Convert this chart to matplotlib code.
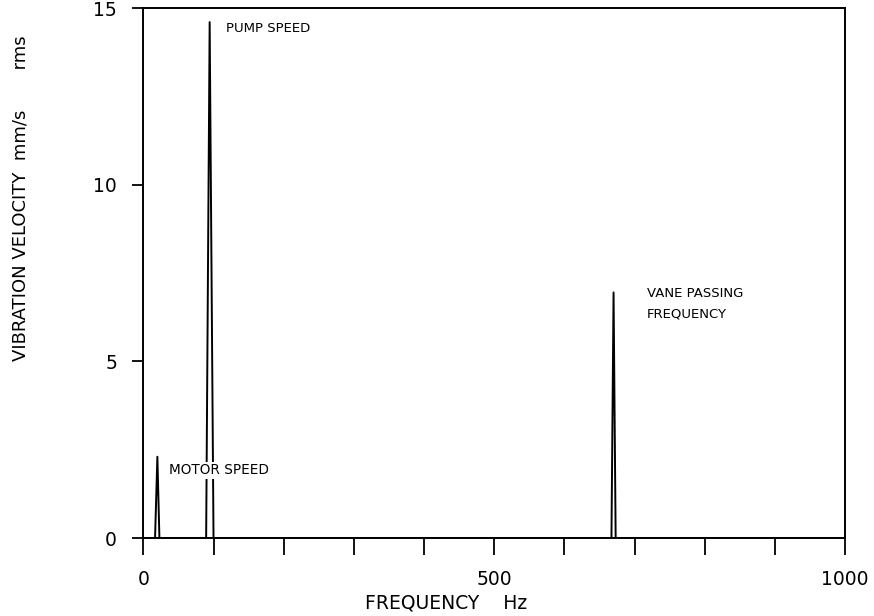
import numpy as np
import matplotlib.pyplot as plt

# spectrum (Hz, mm/s rms)
freq = [0, 15, 16.7, 20, 22.9, 89.5, 94.5, 100, 667, 670, 673, 1000]
amp = [0, 0, 0, 2.3, 0, 0, 14.6, 0, 0, 6.95, 0, 0]

xticks = [0, 100, 200, 300, 400, 500, 600, 700, 800, 900, 1000]
xticklabels = ['0', '', '', '', '', '500', '', '', '', '', '1000']
yticks = [0, 5, 10, 15]

# peak labels: text, x, y
labels = [('PUMP SPEED', 118, 14.43),
          ('MOTOR SPEED', 36, 1.92),
          ('VANE PASSING\nFREQUENCY', 718, 7.1)]

plt.rcParams['font.family'] = ['DejaVu Sans']

fig = plt.figure(figsize=(8.74, 6.16), dpi=100)
ax = fig.add_axes([0.164, 0.1266, 0.803, 0.8604])

ax.plot(freq, amp, color='black', lw=1.4)

for txt, x, y in labels:
    if txt.startswith('MOTOR'):
        # label sits on top of the pump peak lines, like the original
        ax.text(x, y, txt, fontsize=9.8, ha='left', va='center',
                bbox=dict(facecolor='white', edgecolor='none', pad=1))
    else:
        ax.text(x, y, txt, fontsize=9.5, ha='left', va='top' if '\n' in txt else 'center',
                linespacing=1.7)

ax.set_xlim(0, 1000)
ax.set_ylim(0, 15)
ax.set_xticks(xticks)
ax.set_xticklabels(xticklabels, fontsize=13.5)
ax.set_yticks(yticks)
ax.set_yticklabels([str(v) for v in yticks], fontsize=13.5)
ax.tick_params(axis='x', direction='out', length=12, width=1.3, pad=11)
ax.tick_params(axis='y', direction='out', length=8, width=1.3, pad=11)
for s in ax.spines.values():
    s.set_linewidth(1.4)

fig.text(0.51, 0.006, 'FREQUENCY    Hz', fontsize=13.5, ha='center', va='bottom')
fig.text(0.024, 0.679, 'VIBRATION VELOCITY  mm/s       rms', fontsize=13,
         rotation=90, ha='center', va='center')

fig.savefig('out.png', dpi=100)
